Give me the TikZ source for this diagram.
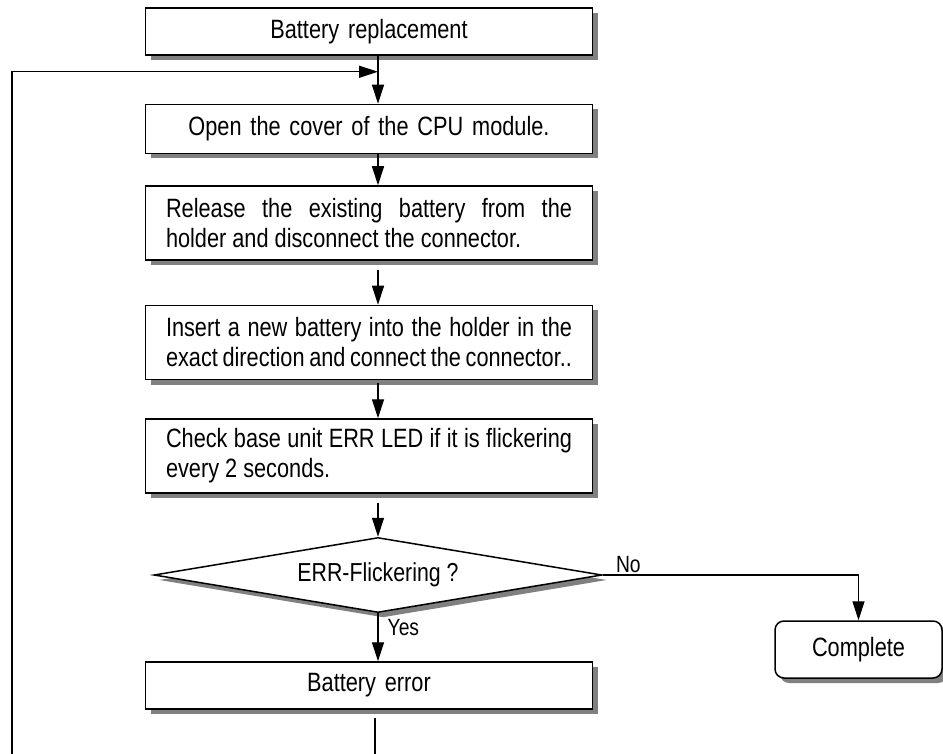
\documentclass[tikz,border=0pt]{standalone}
\usepackage{fontspec}
\setmainfont[FakeStretch=0.82]{Liberation Sans}
\usetikzlibrary{arrows.meta, positioning, shapes.geometric, shadows}
\hyphenpenalty=10000
\tolerance=10000
\tikzset{shade/.style={drop shadow={shadow xshift=5pt,shadow yshift=-5pt,fill=black!50,opacity=1}},
box/.style={rectangle,draw,line width=1.5pt,fill=white,shade,text width=406pt,inner xsep=20.5pt,inner ysep=0pt,minimum height=47pt,align=center,font=\fontsize{26.5}{30}\selectfont},
tallbox/.style={box,minimum height=74pt,align=justify},
dec/.style={diamond,shape aspect=6,draw,line width=1.5pt,fill=white,shade,minimum width=448pt,minimum height=75pt,inner sep=0pt,font=\fontsize{26}{30}\selectfont},
term/.style={rectangle,draw,rounded corners=9pt,line width=1.5pt,fill=white,shade,minimum width=167pt,minimum height=57pt,font=\fontsize{26.5}{30}\selectfont},
lbl/.style={font=\fontsize{23.5}{26}\selectfont,inner sep=2pt},
line/.style={-{Triangle[length=19pt,width=12pt]},line width=1.3pt}}

\begin{document}
\begin{tikzpicture}[x=1pt,y=-1pt]
\useasboundingbox (0,0) rectangle (943,754);
\node[box] (b1) at (369,31.5) {Battery replacement};
\node[box, below=48pt of b1, minimum height=49pt] (b2) {Open the cover of the CPU module.};
\node[tallbox, below=31pt of b2] (b3) {Release the existing battery from the\linebreak holder and disconnect the connector.};
\node[tallbox, below=44pt of b3] (b4) {Insert a new battery into the holder in the\linebreak exact direction and connect the connector..};
\node[tallbox, below=38pt of b4] (b5) {Check base unit ERR LED if it is flickering every 2 seconds.};
\node[dec, below=43pt of b5, xshift=9pt] (dia) {ERR-Flickering ?};
\node[box, below=48pt of dia, xshift=-9pt] (b6) {Battery error};
\node[term] (done) at (858.5,649.5) {Complete};
\coordinate (join) at ([yshift=-16pt]b1.south -| dia.center);
\coordinate (corner) at (12,800);
\draw[line] (b1.south -| dia.center) -- (b2.north -| dia.center);
\draw[line] (b2.south -| dia.center) -- (b3.north -| dia.center);
\draw[line, shorten <=9pt] (b3.south -| dia.center) -- (b4.north -| dia.center);
\draw[line, shorten <=3pt] (b4.south -| dia.center) -- (b5.north -| dia.center);
\draw[line, shorten <=9pt] (b5.south -| dia.center) -- (dia.north);
\draw[line] (dia.south) -- node[lbl, right=7pt, pos=0.3] {Yes} (b6.north -| dia.center);
\draw[line] (dia.east) -| node[lbl, above, pos=0.05] {No} (done.north);
\draw[line] ([xshift=6pt, yshift=-8pt]b6.south) |- (corner) |- (join);
\end{tikzpicture}
\end{document}
